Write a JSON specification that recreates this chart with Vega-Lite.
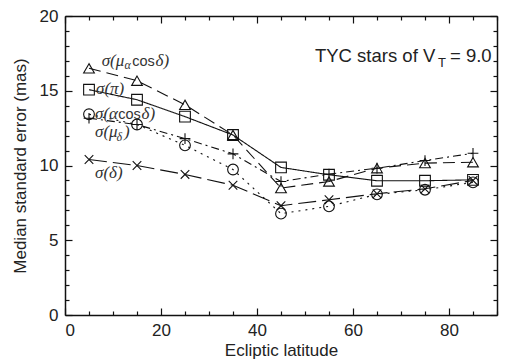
{
  "$schema": "https://vega.github.io/schema/vega-lite/v6.json",
  "width": 432,
  "height": 299,
  "autosize": "none",
  "padding": {"left": 65, "top": 16, "right": 10, "bottom": 47},
  "background": "white",
  "config": {
    "view": {"stroke": null},
    "font": "Liberation Sans",
    "axis": {
      "grid": false,
      "domainColor": "#111",
      "domainWidth": 1.5,
      "tickColor": "#111",
      "tickWidth": 1.2,
      "labelFont": "Liberation Sans",
      "labelFontSize": 17,
      "labelColor": "#222",
      "titleFont": "Liberation Sans",
      "titleFontSize": 17,
      "titleFontWeight": "normal",
      "titleColor": "#222"
    }
  },
  "datasets": {
    "errors": [
      {"lat": 5, "s": "pi", "v": 15.07}, {"lat": 15, "s": "pi", "v": 14.4}, {"lat": 25, "s": "pi", "v": 13.27},
      {"lat": 35, "s": "pi", "v": 12.04}, {"lat": 45, "s": "pi", "v": 9.87}, {"lat": 55, "s": "pi", "v": 9.38},
      {"lat": 65, "s": "pi", "v": 8.98}, {"lat": 75, "s": "pi", "v": 8.98}, {"lat": 85, "s": "pi", "v": 9.04},
      {"lat": 5, "s": "mua", "v": 16.5}, {"lat": 15, "s": "mua", "v": 15.67}, {"lat": 25, "s": "mua", "v": 14.06},
      {"lat": 35, "s": "mua", "v": 12.04}, {"lat": 45, "s": "mua", "v": 8.49}, {"lat": 55, "s": "mua", "v": 8.93},
      {"lat": 65, "s": "mua", "v": 9.82}, {"lat": 75, "s": "mua", "v": 10.16}, {"lat": 85, "s": "mua", "v": 10.22},
      {"lat": 5, "s": "a", "v": 13.43}, {"lat": 15, "s": "a", "v": 12.74}, {"lat": 25, "s": "a", "v": 11.35},
      {"lat": 35, "s": "a", "v": 9.73}, {"lat": 45, "s": "a", "v": 6.78}, {"lat": 55, "s": "a", "v": 7.27},
      {"lat": 65, "s": "a", "v": 8.07}, {"lat": 75, "s": "a", "v": 8.38}, {"lat": 85, "s": "a", "v": 8.87},
      {"lat": 5, "s": "mud", "v": 13.16}, {"lat": 15, "s": "mud", "v": 12.74}, {"lat": 25, "s": "mud", "v": 11.8},
      {"lat": 35, "s": "mud", "v": 10.78}, {"lat": 45, "s": "mud", "v": 8.93}, {"lat": 55, "s": "mud", "v": 9.42},
      {"lat": 65, "s": "mud", "v": 9.82}, {"lat": 75, "s": "mud", "v": 10.33}, {"lat": 85, "s": "mud", "v": 10.82},
      {"lat": 5, "s": "d", "v": 10.4}, {"lat": 15, "s": "d", "v": 10.0}, {"lat": 25, "s": "d", "v": 9.4},
      {"lat": 35, "s": "d", "v": 8.68}, {"lat": 45, "s": "d", "v": 7.31}, {"lat": 55, "s": "d", "v": 7.71},
      {"lat": 65, "s": "d", "v": 8.11}, {"lat": 75, "s": "d", "v": 8.44}, {"lat": 85, "s": "d", "v": 9.0}
    ],
    "greek": [
      {"x": 7.65, "y": 16.66, "t": "σ(μ"},
      {"x": 18.85, "y": 16.66, "t": "δ)"},
      {"x": 6.46, "y": 14.76, "t": "σ(π)"},
      {"x": 6.25, "y": 13.09, "t": "σ(α"},
      {"x": 15.94, "y": 13.09, "t": "δ)"},
      {"x": 6.25, "y": 11.89, "t": "σ(μ"},
      {"x": 12.29, "y": 11.89, "t": ")"},
      {"x": 6.25, "y": 9.14, "t": "σ(δ)"}
    ],
    "plain": [
      {"x": 14.0, "y": 16.66, "t": "cos"},
      {"x": 11.1, "y": 13.09, "t": "cos"}
    ],
    "subs": [
      {"x": 12.4, "y": 16.45, "t": "α"},
      {"x": 10.73, "y": 11.64, "t": "δ"}
    ],
    "heading": [
      {"x": 52.08, "y": 16.94, "t": "TYC stars of V"},
      {"x": 80.2, "y": 16.94, "t": "= 9.0"}
    ],
    "headingSub": [
      {"x": 77.7, "y": 16.62, "t": "T"}
    ]
  },
  "layer": [
    {
      "data": {"name": "errors"},
      "mark": {"type": "line", "color": "#111", "strokeWidth": 1.1},
      "encoding": {
        "x": {
          "field": "lat", "type": "quantitative",
          "scale": {"domain": [0, 90], "nice": false, "zero": false},
          "axis": {
            "title": "Ecliptic latitude",
            "orient": "bottom",
            "values": [0, 5, 10, 15, 20, 25, 30, 35, 40, 45, 50, 55, 60, 65, 70, 75, 80, 85, 90],
            "labelExpr": "datum.value % 20 === 0 ? datum.label : ''",
            "tickSize": {"condition": {"test": "datum.value % 20 === 0", "value": -7}, "value": -4},
            "labelPadding": 14,
            "titlePadding": 4
          }
        },
        "y": {
          "field": "v", "type": "quantitative",
          "scale": {"domain": [0, 20], "nice": false},
          "axis": {
            "title": "Median standard error (mas)",
            "orient": "left",
            "values": [0, 1, 2, 3, 4, 5, 6, 7, 8, 9, 10, 11, 12, 13, 14, 15, 16, 17, 18, 19, 20],
            "labelExpr": "datum.value % 5 === 0 ? datum.label : ''",
            "tickSize": {"condition": {"test": "datum.value % 5 === 0", "value": -7}, "value": -4},
            "labelPadding": 14,
            "titlePadding": 10
          }
        },
        "detail": {"field": "s"},
        "strokeDash": {
          "field": "s", "type": "nominal",
          "scale": {
            "domain": ["pi", "mua", "a", "mud", "d"],
            "range": [[1, 0], [12, 6], [2, 5], [8, 4, 2, 4], [18, 6]]
          },
          "legend": null
        }
      }
    },
    {
      "data": {"name": "errors"},
      "mark": {"type": "point", "filled": false, "stroke": "#111", "strokeWidth": 1.1, "size": 115, "opacity": 1},
      "encoding": {
        "x": {
          "field": "lat", "type": "quantitative",
          "axis": {
            "title": null,
            "orient": "top",
            "labels": false,
            "values": [0, 5, 10, 15, 20, 25, 30, 35, 40, 45, 50, 55, 60, 65, 70, 75, 80, 85, 90],
            "tickSize": {"condition": {"test": "datum.value % 20 === 0", "value": -7}, "value": -4}
          }
        },
        "y": {
          "field": "v", "type": "quantitative",
          "axis": {
            "title": null,
            "orient": "right",
            "labels": false,
            "values": [0, 1, 2, 3, 4, 5, 6, 7, 8, 9, 10, 11, 12, 13, 14, 15, 16, 17, 18, 19, 20],
            "tickSize": {"condition": {"test": "datum.value % 5 === 0", "value": -7}, "value": -4}
          }
        },
        "shape": {
          "field": "s", "type": "nominal",
          "scale": {
            "domain": ["pi", "mua", "a", "mud", "d"],
            "range": ["square", "triangle-up", "circle", "M-1,0L1,0M0,-1L0,1", "M-0.8,-0.8L0.8,0.8M-0.8,0.8L0.8,-0.8"]
          },
          "legend": null
        }
      }
    },
    {
      "data": {"name": "greek"},
      "mark": {"type": "text", "align": "left", "baseline": "alphabetic", "font": "Liberation Serif", "fontStyle": "italic", "fontSize": 17, "color": "#333"},
      "encoding": {
        "x": {"field": "x", "type": "quantitative", "axis": null},
        "y": {"field": "y", "type": "quantitative", "axis": null},
        "text": {"field": "t"}
      }
    },
    {
      "data": {"name": "plain"},
      "mark": {"type": "text", "align": "left", "baseline": "alphabetic", "font": "Liberation Sans", "fontSize": 14.5, "color": "#333"},
      "encoding": {
        "x": {"field": "x", "type": "quantitative", "axis": null},
        "y": {"field": "y", "type": "quantitative", "axis": null},
        "text": {"field": "t"}
      }
    },
    {
      "data": {"name": "subs"},
      "mark": {"type": "text", "align": "left", "baseline": "alphabetic", "font": "Liberation Serif", "fontStyle": "italic", "fontSize": 12, "color": "#333"},
      "encoding": {
        "x": {"field": "x", "type": "quantitative", "axis": null},
        "y": {"field": "y", "type": "quantitative", "axis": null},
        "text": {"field": "t"}
      }
    },
    {
      "data": {"name": "heading"},
      "mark": {"type": "text", "align": "left", "baseline": "alphabetic", "font": "Liberation Sans", "fontSize": 18.5, "color": "#222"},
      "encoding": {
        "x": {"field": "x", "type": "quantitative", "axis": null},
        "y": {"field": "y", "type": "quantitative", "axis": null},
        "text": {"field": "t"}
      }
    },
    {
      "data": {"name": "headingSub"},
      "mark": {"type": "text", "align": "left", "baseline": "alphabetic", "font": "Liberation Sans", "fontSize": 13, "color": "#222"},
      "encoding": {
        "x": {"field": "x", "type": "quantitative", "axis": null},
        "y": {"field": "y", "type": "quantitative", "axis": null},
        "text": {"field": "t"}
      }
    }
  ],
  "resolve": {"axis": {"x": "independent", "y": "independent"}}
}
